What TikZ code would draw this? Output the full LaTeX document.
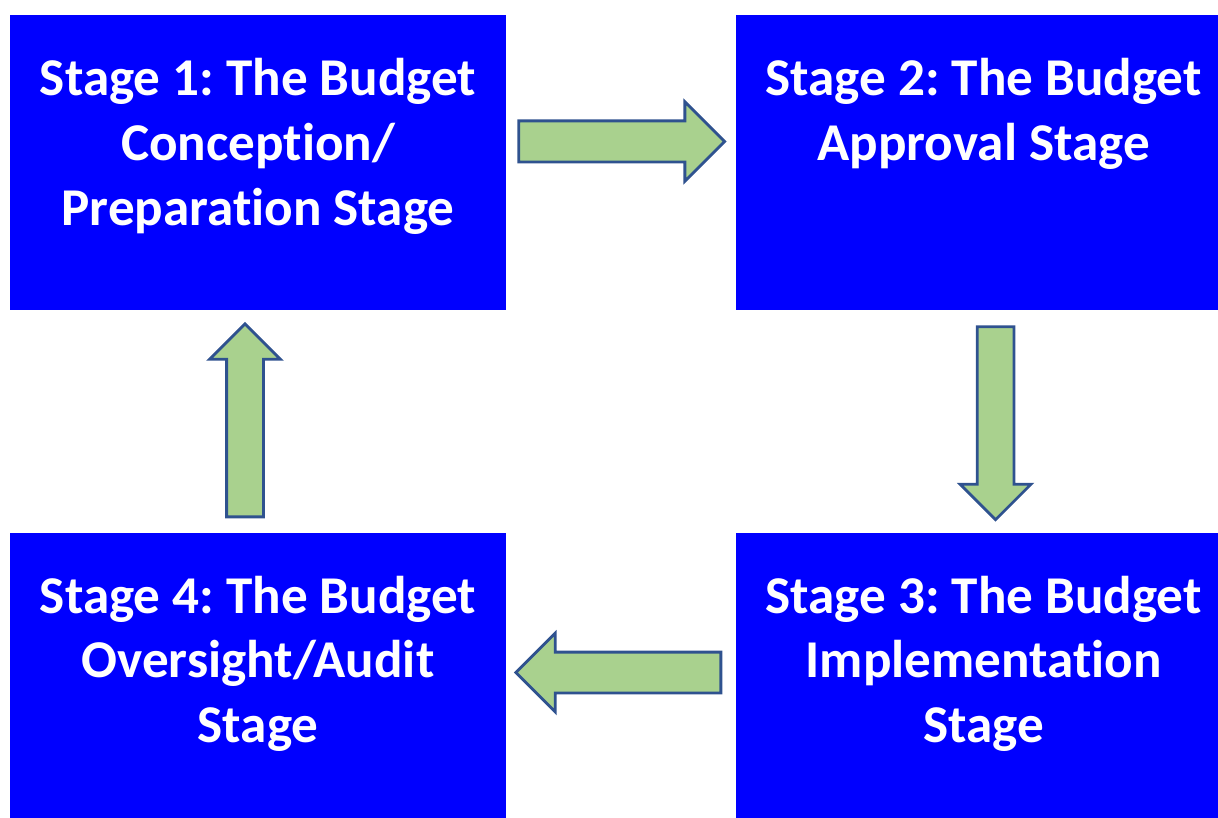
\documentclass[tikz,border=0pt]{standalone}
\usepackage{fontspec}
\setmainfont{Carlito}[Ligatures=NoCommon]
\frenchspacing
\usetikzlibrary{positioning, shapes.arrows, calc}
\definecolor{stageblue}{rgb}{0, 0, 1}
\definecolor{arrowgreen}{HTML}{A9D18E}
\definecolor{arrowedge}{HTML}{2F528F}

\tikzset{
  stagebox/.style={fill=stageblue, minimum width=12.4cm, minimum height=7.375cm, inner sep=0pt},
  stagetext/.style={text=white, font=\bfseries\fontsize{37.8}{46.2}\selectfont, align=center, anchor=north, inner sep=0pt},
  flowarrow/.style={single arrow, draw=arrowedge, fill=arrowgreen, line width=2pt, inner xsep=0pt, inner ysep=#1, single arrow head extend=#1, anchor=tail},
}

\begin{document}
\begin{tikzpicture}
	\useasboundingbox (0,0) rectangle (30.45,20.45);
	\clip (0,0) rectangle (30.45,20.45);
	%% the four stages, clockwise
	\node[stagebox] (s1) at (6.45,16.3875) {};
	\node[stagebox, right=5.725cm of s1] (s2) {};
	\node[stagebox, below=5.55cm of s2] (s3) {};
	\node[stagebox, left=5.725cm of s3] (s4) {};
	
	\node[stagetext] (t1) at ($(s1.north)+(0,-1.08)$) {Stage 1: The Budget\\ Conception/\\ Preparation Stage};
	\node[stagetext] (t2) at ($(s2.north)+(0,-1.08)$) {Stage 2: The Budget\\ Approval Stage};
	\node[stagetext] (t3) at ($(s3.north)+(0,-1.08)$) {Stage 3: The Budget\\ Implementation\\ Stage};
	\node[stagetext] (t4) at ($(s4.north)+(0,-1.08)$) {Stage 4: The Budget\\ Oversight/Audit\\ Stage};
	
	%% block arrows between the stages (placed by their tails)
	\node[flowarrow=0.48cm, minimum height=5.15cm] (a12) at ($(s1.east)+(0.275,0.525)$) {};
	\node[flowarrow=0.425cm, minimum height=4.825cm, rotate=-90] (a23) at ($(s2.south)+(0.3,-0.375)$) {};
	\node[flowarrow=0.475cm, minimum height=5.125cm, rotate=180] (a34) at ($(s3.west)+(-0.325,0.1875)$) {};
	\node[flowarrow=0.425cm, minimum height=4.825cm, rotate=90] (a41) at ($(s4.north)+(-0.325,0.35)$) {};
\end{tikzpicture}
\end{document}
